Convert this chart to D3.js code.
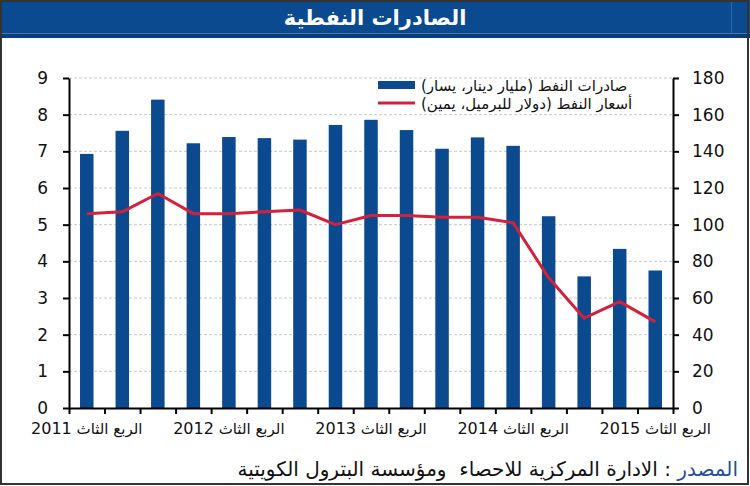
<!DOCTYPE html>
<html>
<head>
<meta charset="utf-8">
<script src="https://cdn.jsdelivr.net/npm/d3@7"></script>
<style>
  body { margin: 0; background: #fff; }
  text { font-family: "DejaVu Sans", "Liberation Sans", sans-serif; }
</style>
</head>
<body>
<div id="chart"></div>
<script>
// quarters from Q3 2011 to Q3 2015
let quarters = ["2011Q3","2011Q4","2012Q1","2012Q2","2012Q3","2012Q4","2013Q1","2013Q2","2013Q3",
                "2013Q4","2014Q1","2014Q2","2014Q3","2014Q4","2015Q1","2015Q2","2015Q3"];
// oil exports, billion KD (left axis)
let oilExports = [6.93,7.56,8.41,7.22,7.39,7.36,7.32,7.72,7.86,7.58,7.07,7.38,7.15,5.23,3.59,4.34,3.75];
// oil price, $ per barrel (right axis)
let oilPrice = [106,107,117,106,106,107,108,100,105,105,104,104,101,71,49,58,47];

let tickQuarters = ["2011Q3","2012Q3","2013Q3","2014Q3","2015Q3"];
let tickYears = ["2011","2012","2013","2014","2015"];
let tickPrefix = "الربع الثاث";

let leftTicks = [0,1,2,3,4,5,6,7,8,9];
let rightTicks = [0,20,40,60,80,100,120,140,160,180];

let legendLabels = ["صادرات النفط (مليار دينار، يسار)", "أسعار النفط (دولار للبرميل، يمين)"];
let title = "الصادرات النفطية";
let sourceLabel = "المصدر";
let sourceText = " : الادارة المركزية للاحصاء  ومؤسسة البترول الكويتية";

let W = 750, H = 486;
let plotLeft = 69, plotRight = 673, plotTop = 78, plotBottom = 408;
let blue = "#0b4a8e", red = "#d3203b";

let svg = d3.select("#chart").append("svg")
  .attr("width", W)
  .attr("height", H);

// title bar
svg.append("rect").attr("x", 0).attr("y", 0).attr("width", W).attr("height", 34).attr("fill", "#0b4a8f");
svg.append("rect").attr("x", 0).attr("y", 34).attr("width", W).attr("height", 4).attr("fill", "#0a3d78");
svg.append("line").attr("x1", 0).attr("x2", W).attr("y1", 33.5).attr("y2", 33.5)
  .attr("stroke", "#4676b4").attr("stroke-width", 1);
svg.append("line").attr("x1", 731.5).attr("x2", 731.5).attr("y1", 0).attr("y2", 33)
  .attr("stroke", "#3266a6").attr("stroke-width", 1);
svg.append("text")
  .attr("x", W / 2).attr("y", 25)
  .attr("text-anchor", "middle")
  .attr("direction", "rtl")
  .attr("fill", "#fff")
  .attr("font-weight", "bold")
  .attr("font-size", 21)
  .text(title);

// scales
let x = d3.scaleBand().domain(quarters).range([plotLeft, plotRight]).paddingInner(0.62).paddingOuter(0.31);
let xEdge = d3.scaleLinear().domain([0, quarters.length]).range([plotLeft, plotRight]);
let yL = d3.scaleLinear().domain([0, 9]).range([plotBottom, plotTop]);
let yR = d3.scaleLinear().domain([0, 180]).range([plotBottom, plotTop]);

// gridlines
svg.append("g").selectAll("line")
  .data(leftTicks.filter(d => d > 0))
  .enter()
  .append("line")
  .attr("x1", plotLeft).attr("x2", plotRight)
  .attr("y1", d => yL(d)).attr("y2", d => yL(d))
  .attr("stroke", "#c8c8c8")
  .attr("stroke-width", 1)
  .attr("stroke-dasharray", "3,2");

// bars
svg.append("g").selectAll("rect")
  .data(oilExports)
  .enter()
  .append("rect")
  .attr("x", (d, i) => x(quarters[i]))
  .attr("y", d => yL(d))
  .attr("width", x.bandwidth())
  .attr("height", d => yL(0) - yL(d))
  .attr("fill", blue);

// price line
let line = d3.line()
  .x((d, i) => x(quarters[i]) + x.bandwidth() / 2)
  .y(d => yR(d));

svg.append("path")
  .datum(oilPrice)
  .attr("d", line)
  .attr("fill", "none")
  .attr("stroke", red)
  .attr("stroke-width", 3)
  .attr("stroke-linejoin", "round");

// axes
let axL = svg.append("g")
  .attr("transform", "translate(" + plotLeft + ",0)")
  .call(d3.axisLeft(yL).tickValues(leftTicks).tickSize(6).tickPadding(15).tickSizeOuter(0));
let axR = svg.append("g")
  .attr("transform", "translate(" + plotRight + ",0)")
  .call(d3.axisRight(yR).tickValues(rightTicks).tickSize(6).tickPadding(13).tickSizeOuter(0));
let axB = svg.append("g")
  .attr("transform", "translate(0," + plotBottom + ")")
  .call(d3.axisBottom(xEdge).tickValues(d3.range(0, quarters.length + 1)).tickFormat("").tickSize(6).tickSizeOuter(0));

[axL, axR, axB].forEach(function (g) {
  g.select(".domain").attr("stroke", "#000").attr("stroke-width", 2);
  g.selectAll(".tick line").attr("stroke", "#000").attr("stroke-width", 2);
  g.selectAll(".tick text")
    .attr("fill", "#111")
    .attr("font-size", 17)
    .attr("font-family", "DejaVu Sans, sans-serif");
});

// quarter labels
let labels = svg.append("g").selectAll("text")
  .data(tickQuarters)
  .enter()
  .append("text")
  .attr("x", d => x(d) + x.bandwidth() / 2)
  .attr("y", 434)
  .attr("text-anchor", "middle")
  .attr("direction", "rtl")
  .attr("fill", "#111");
labels.append("tspan").attr("font-size", 15).text(tickPrefix + " ");
labels.append("tspan").attr("font-size", 16).text((d, i) => tickYears[i]);

// legend
let legend = svg.append("g");
legend.selectAll("rect")
  .data([legendLabels[0]])
  .enter()
  .append("rect")
  .attr("x", 378).attr("y", 81)
  .attr("width", 37).attr("height", 8)
  .attr("fill", blue);
legend.append("line")
  .attr("x1", 378).attr("x2", 415)
  .attr("y1", 103).attr("y2", 103)
  .attr("stroke", red).attr("stroke-width", 3);
legend.selectAll("text")
  .data(legendLabels)
  .enter()
  .append("text")
  .attr("x", 421)
  .attr("y", (d, i) => 91 + i * 18)
  .attr("direction", "rtl")
  .attr("text-anchor", "end")
  .attr("font-size", 15)
  .attr("fill", "#111")
  .text(d => d);

// source
let src = svg.append("text")
  .attr("x", 738)
  .attr("y", 476)
  .attr("direction", "rtl")
  .attr("text-anchor", "start")
  .attr("font-size", 20)
  .style("white-space", "pre");
src.append("tspan").attr("fill", "#1f4f9c").text(sourceLabel);
src.append("tspan").attr("fill", "#111").text(sourceText);

// frame
svg.append("rect")
  .attr("x", 1).attr("y", 1)
  .attr("width", W - 3).attr("height", H - 3)
  .attr("fill", "none")
  .attr("stroke", "#333")
  .attr("stroke-width", 2);
</script>
</body>
</html>
